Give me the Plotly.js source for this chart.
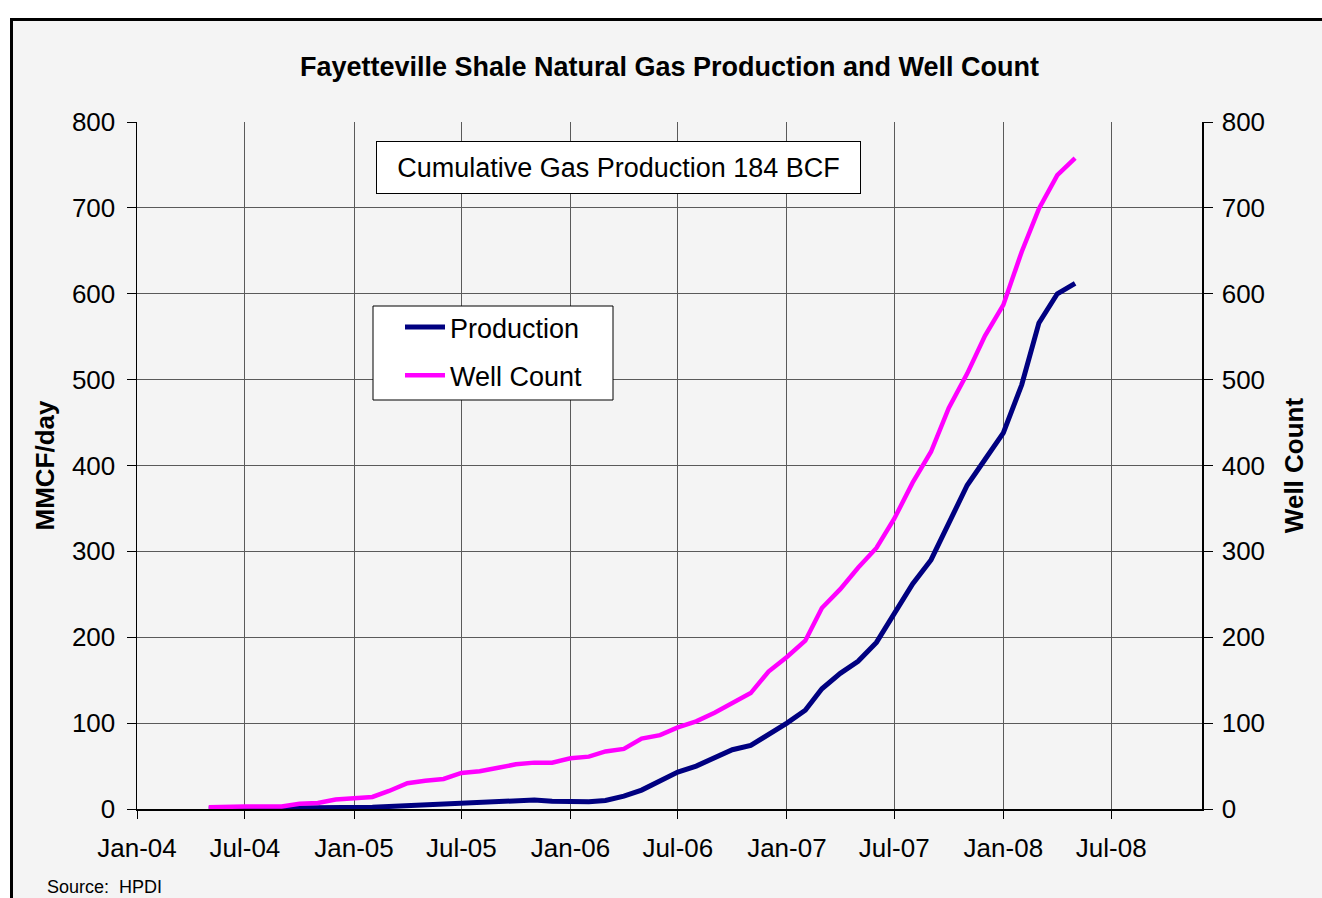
<!DOCTYPE html>
<html>
<head>
<meta charset="utf-8">
<script src="https://cdn.plot.ly/plotly-3.0.1.min.js"></script>
<style>
  html, body { margin:0; padding:0; width:1322px; height:898px; overflow:hidden; background:#ffffff; }
  #frame { position:absolute; left:10px; top:18px; width:1400px; height:1000px;
           border-left:3px solid #000; border-top:3px solid #000; background:#f4f4f4; }
  #chart { position:absolute; left:0; top:0; width:1322px; height:898px; }
</style>
</head>
<body>
<div id="frame"></div>
<div id="chart"></div>
<script>
// Monthly dates (first of month), May-04 .. May-08
var months = [
  '2004-05-01','2004-06-01','2004-07-01','2004-08-01','2004-09-01','2004-10-01','2004-11-01','2004-12-01',
  '2005-01-01','2005-02-01','2005-03-01','2005-04-01','2005-05-01','2005-06-01','2005-07-01','2005-08-01',
  '2005-09-01','2005-10-01','2005-11-01','2005-12-01',
  '2006-01-01','2006-02-01','2006-03-01','2006-04-01','2006-05-01','2006-06-01','2006-07-01','2006-08-01',
  '2006-09-01','2006-10-01','2006-11-01','2006-12-01',
  '2007-01-01','2007-02-01','2007-03-01','2007-04-01','2007-05-01','2007-06-01','2007-07-01','2007-08-01',
  '2007-09-01','2007-10-01','2007-11-01','2007-12-01',
  '2008-01-01','2008-02-01','2008-03-01','2008-04-01','2008-05-01'
];

// Production, MMCF/day (left axis)
var production = [
  0.3, 0.4, 0.5, 0.6, 0.8, 1, 1, 1.2,
  1.5, 2, 3, 4, 6, 7, 8, 9,
  10, 10.5, 10.5, 9,
  8.5, 8.5, 10, 15, 22, 32, 43, 50,
  59, 69, 74, 86,
  100, 115, 140, 158, 172, 194, 227, 262,
  290, 332, 377, 407,
  438, 494, 566, 600, 612
];

// Well count (right axis)
var wellCount = [
  2, 3, 3, 3, 3, 6, 7, 11,
  13, 14, 21, 30, 33, 35, 42, 44,
  48, 52, 54, 54,
  59, 61, 67, 70, 82, 86, 95, 102,
  112, 123, 135, 160,
  177, 196, 234, 256, 281, 304, 338, 380,
  416, 467, 507, 551,
  587, 649, 699, 738, 758
];

var seriesNames = ['Production', 'Well Count'];
var seriesColors = ['#000080', '#ff00ff'];
var yTicks = [0, 100, 200, 300, 400, 500, 600, 700, 800];

var chartTitle = 'Fayetteville Shale Natural Gas Production and Well Count';
var leftTitle = 'MMCF/day';
var rightTitle = 'Well Count';
var noteText = 'Cumulative Gas Production 184 BCF';
var sourceText = 'Source:  HPDI';

var FONT = 'Arial, "Liberation Sans", sans-serif';

// plot-area geometry (pixels)
var L = 137, R = 1202, T = 122, B = 809;
var W = R - L, H = B - T;
function px(x) { return (x - L) / W; }
function py(y) { return (B - y) / H; }

var traces = [
  {
    x: months, y: production, name: seriesNames[0], type: 'scatter', mode: 'lines',
    line: { color: seriesColors[0], width: 5 }, yaxis: 'y', legendgroup: 'a'
  },
  {
    x: months, y: wellCount, name: seriesNames[1], type: 'scatter', mode: 'lines',
    line: { color: seriesColors[1], width: 4.5 }, yaxis: 'y2', legendgroup: 'b'
  }
];

var layout = {
  width: 1322, height: 898,
  margin: { l: L, r: 1322 - R, t: T, b: 898 - B, pad: 0 },
  paper_bgcolor: 'rgba(0,0,0,0)',
  plot_bgcolor: '#f4f4f4',
  font: { family: FONT, color: '#000', size: 26 },
  showlegend: true,
  title: {
    text: chartTitle,
    font: { family: FONT, size: 27, weight: 'bold', color: '#000' },
    xref: 'paper', x: 0.5, xanchor: 'center',
    yref: 'container', y: 1 - 67 / 898, yanchor: 'middle'
  },
  xaxis: {
    type: 'date',
    range: ['2004-01-01', '2008-12-01'],
    tick0: '2004-01-01', dtick: 'M6', tickformat: '%b-%y',
    showgrid: true, gridcolor: '#5a5a5a', gridwidth: 1,
    showline: true, linecolor: '#000', linewidth: 1.5,
    ticks: 'outside', ticklen: 8, tickcolor: '#000', tickwidth: 1,
    tickfont: { family: FONT, size: 26, color: '#000' },
    ticklabelstandoff: 7,
    zeroline: false, fixedrange: true
  },
  yaxis: {
    range: [0, 800], tickvals: yTicks,
    showgrid: true, gridcolor: '#5a5a5a', gridwidth: 1,
    showline: true, linecolor: '#000', linewidth: 1.5,
    ticks: 'outside', ticklen: 9, tickcolor: '#000', tickwidth: 1,
    tickfont: { family: FONT, size: 26, color: '#000' },
    ticklabelstandoff: 6,
    zeroline: false, fixedrange: true,
    title: { text: leftTitle, font: { family: FONT, size: 26, weight: 'bold', color: '#000' }, standoff: 10 }
  },
  yaxis2: {
    overlaying: 'y', side: 'right',
    range: [0, 800], tickvals: yTicks,
    showgrid: false,
    showline: true, linecolor: '#000', linewidth: 1.5,
    ticks: 'outside', ticklen: 9, tickcolor: '#000', tickwidth: 1,
    tickfont: { family: FONT, size: 26, color: '#000' },
    ticklabelstandoff: 4,
    zeroline: false, fixedrange: true,
    title: { text: rightTitle, font: { family: FONT, size: 26, weight: 'bold', color: '#000' }, standoff: 20 }
  },
  legend: {
    x: px(400), y: py(303), xanchor: 'left', yanchor: 'top',
    xref: 'paper', yref: 'paper',
    bgcolor: 'rgba(0,0,0,0)', borderwidth: 0,
    font: { family: FONT, size: 27, color: '#000' },
    traceorder: 'grouped', tracegroupgap: 10, itemwidth: 40
  },
  shapes: [
    {
      type: 'rect', xref: 'paper', yref: 'paper',
      x0: px(373), x1: px(613), y0: py(400), y1: py(306),
      fillcolor: '#ffffff', line: { color: '#000', width: 1 }, layer: 'above'
    }
  ],
  annotations: [
    {
      text: noteText, xref: 'paper', yref: 'paper',
      x: px(618.5), y: py(167), xanchor: 'center', yanchor: 'middle',
      showarrow: false, width: 483, height: 51,
      bgcolor: '#ffffff', bordercolor: '#000', borderwidth: 1, borderpad: 0,
      font: { family: FONT, size: 27, color: '#000' }
    },
    {
      text: sourceText, xref: 'paper', yref: 'paper',
      x: px(45), y: py(887), xanchor: 'left', yanchor: 'middle',
      showarrow: false, font: { family: FONT, size: 18, color: '#000' }
    }
  ]
};

Plotly.newPlot('chart', traces, layout, { staticPlot: true, displayModeBar: false });
</script>
</body>
</html>
